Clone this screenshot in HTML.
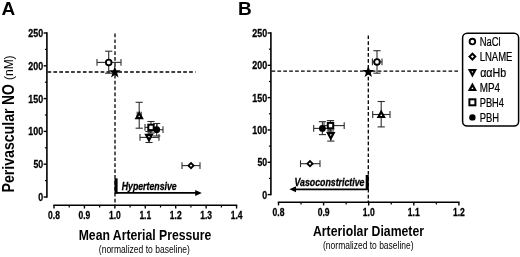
<!DOCTYPE html>
<html><head><meta charset="utf-8"><title>Figure</title>
<style>html,body{margin:0;padding:0;background:#fff}svg{display:block;will-change:transform}</style></head>
<body>
<svg width="520" height="257" viewBox="0 0 520 257" font-family='"Liberation Sans", Arial, sans-serif' fill="#000">
<rect width="520" height="257" fill="#fff"/>
<text x="1.4" y="15.3" font-size="19" font-weight="bold" font-style="normal" text-anchor="start" >A</text>
<line x1="46.9" y1="32.3" x2="46.9" y2="197.7" stroke="#000" stroke-width="1.6" />
<line x1="43.6" y1="33.0" x2="46.9" y2="33.0" stroke="#000" stroke-width="1.4" />
<text x="43.1" y="37.0" font-size="11.2" font-weight="bold" font-style="normal" text-anchor="end" textLength="14.8" lengthAdjust="spacingAndGlyphs" stroke="#000" stroke-width="0.3">250</text>
<line x1="44.9" y1="49.4" x2="46.9" y2="49.4" stroke="#000" stroke-width="1.2" />
<line x1="43.6" y1="65.8" x2="46.9" y2="65.8" stroke="#000" stroke-width="1.4" />
<text x="43.1" y="69.8" font-size="11.2" font-weight="bold" font-style="normal" text-anchor="end" textLength="14.8" lengthAdjust="spacingAndGlyphs" stroke="#000" stroke-width="0.3">200</text>
<line x1="44.9" y1="82.19999999999999" x2="46.9" y2="82.19999999999999" stroke="#000" stroke-width="1.2" />
<line x1="43.6" y1="98.6" x2="46.9" y2="98.6" stroke="#000" stroke-width="1.4" />
<text x="43.1" y="102.6" font-size="11.2" font-weight="bold" font-style="normal" text-anchor="end" textLength="14.8" lengthAdjust="spacingAndGlyphs" stroke="#000" stroke-width="0.3">150</text>
<line x1="44.9" y1="115.0" x2="46.9" y2="115.0" stroke="#000" stroke-width="1.2" />
<line x1="43.6" y1="131.39999999999998" x2="46.9" y2="131.39999999999998" stroke="#000" stroke-width="1.4" />
<text x="43.1" y="135.39999999999998" font-size="11.2" font-weight="bold" font-style="normal" text-anchor="end" textLength="14.8" lengthAdjust="spacingAndGlyphs" stroke="#000" stroke-width="0.3">100</text>
<line x1="44.9" y1="147.79999999999998" x2="46.9" y2="147.79999999999998" stroke="#000" stroke-width="1.2" />
<line x1="43.6" y1="164.2" x2="46.9" y2="164.2" stroke="#000" stroke-width="1.4" />
<text x="43.1" y="168.2" font-size="11.2" font-weight="bold" font-style="normal" text-anchor="end" textLength="9.7" lengthAdjust="spacingAndGlyphs" stroke="#000" stroke-width="0.3">50</text>
<line x1="44.9" y1="180.6" x2="46.9" y2="180.6" stroke="#000" stroke-width="1.2" />
<line x1="43.6" y1="197.0" x2="46.9" y2="197.0" stroke="#000" stroke-width="1.4" />
<text x="43.1" y="201.0" font-size="11.2" font-weight="bold" font-style="normal" text-anchor="end" textLength="4.9" lengthAdjust="spacingAndGlyphs" stroke="#000" stroke-width="0.3">0</text>
<line x1="53.3" y1="205.3" x2="237.27999999999997" y2="205.3" stroke="#000" stroke-width="1.6" />
<line x1="54.0" y1="205.3" x2="54.0" y2="208.5" stroke="#000" stroke-width="1.4" />
<text x="54.0" y="218.9" font-size="11.2" font-weight="bold" font-style="normal" text-anchor="middle" textLength="11.8" lengthAdjust="spacingAndGlyphs" stroke="#000" stroke-width="0.3">0.8</text>
<line x1="69.215" y1="205.3" x2="69.215" y2="207.5" stroke="#000" stroke-width="1.2" />
<line x1="84.43" y1="205.3" x2="84.43" y2="208.5" stroke="#000" stroke-width="1.4" />
<text x="84.43" y="218.9" font-size="11.2" font-weight="bold" font-style="normal" text-anchor="middle" textLength="11.8" lengthAdjust="spacingAndGlyphs" stroke="#000" stroke-width="0.3">0.9</text>
<line x1="99.64500000000001" y1="205.3" x2="99.64500000000001" y2="207.5" stroke="#000" stroke-width="1.2" />
<line x1="114.86" y1="205.3" x2="114.86" y2="208.5" stroke="#000" stroke-width="1.4" />
<text x="114.86" y="218.9" font-size="11.2" font-weight="bold" font-style="normal" text-anchor="middle" textLength="11.8" lengthAdjust="spacingAndGlyphs" stroke="#000" stroke-width="0.3">1.0</text>
<line x1="130.075" y1="205.3" x2="130.075" y2="207.5" stroke="#000" stroke-width="1.2" />
<line x1="145.29" y1="205.3" x2="145.29" y2="208.5" stroke="#000" stroke-width="1.4" />
<text x="145.29" y="218.9" font-size="11.2" font-weight="bold" font-style="normal" text-anchor="middle" textLength="11.8" lengthAdjust="spacingAndGlyphs" stroke="#000" stroke-width="0.3">1.1</text>
<line x1="160.505" y1="205.3" x2="160.505" y2="207.5" stroke="#000" stroke-width="1.2" />
<line x1="175.72" y1="205.3" x2="175.72" y2="208.5" stroke="#000" stroke-width="1.4" />
<text x="175.72" y="218.9" font-size="11.2" font-weight="bold" font-style="normal" text-anchor="middle" textLength="11.8" lengthAdjust="spacingAndGlyphs" stroke="#000" stroke-width="0.3">1.2</text>
<line x1="190.935" y1="205.3" x2="190.935" y2="207.5" stroke="#000" stroke-width="1.2" />
<line x1="206.15" y1="205.3" x2="206.15" y2="208.5" stroke="#000" stroke-width="1.4" />
<text x="206.15" y="218.9" font-size="11.2" font-weight="bold" font-style="normal" text-anchor="middle" textLength="11.8" lengthAdjust="spacingAndGlyphs" stroke="#000" stroke-width="0.3">1.3</text>
<line x1="221.365" y1="205.3" x2="221.365" y2="207.5" stroke="#000" stroke-width="1.2" />
<line x1="236.57999999999998" y1="205.3" x2="236.57999999999998" y2="208.5" stroke="#000" stroke-width="1.4" />
<text x="236.57999999999998" y="218.9" font-size="11.2" font-weight="bold" font-style="normal" text-anchor="middle" textLength="11.8" lengthAdjust="spacingAndGlyphs" stroke="#000" stroke-width="0.3">1.4</text>
<g transform="translate(13.4,192.5) rotate(-90)">
<text x="0" y="0.6" font-size="16" font-weight="bold" font-style="normal" text-anchor="start" textLength="84.0" lengthAdjust="spacingAndGlyphs" >Perivascular</text>
<text x="87.5" y="0.6" font-size="16" font-weight="bold" font-style="normal" text-anchor="start" textLength="20.8" lengthAdjust="spacingAndGlyphs" >NO</text>
<text x="112.5" y="0" font-size="12.5" font-weight="normal" font-style="normal" text-anchor="start" textLength="24.6" lengthAdjust="spacingAndGlyphs" >(nM)</text>
</g>
<line x1="47.5" y1="72.0" x2="195.5" y2="72.0" stroke="#000" stroke-width="1.3" stroke-dasharray="3.7 2.2"/>
<line x1="115" y1="33.5" x2="115" y2="205" stroke="#000" stroke-width="1.3" stroke-dasharray="3.7 2.2"/>
<text x="145" y="240.1" font-size="15" font-weight="bold" font-style="normal" text-anchor="middle" textLength="132.6" lengthAdjust="spacingAndGlyphs" >Mean Arterial Pressure</text>
<text x="144.3" y="253.1" font-size="10" font-weight="normal" font-style="normal" text-anchor="middle" textLength="91" lengthAdjust="spacingAndGlyphs" >(normalized to baseline)</text>
<rect x="114.5" y="178.3" width="3.1" height="15.4" fill="#000"/>
<line x1="116" y1="192.9" x2="196" y2="192.9" stroke="#000" stroke-width="1.8" />
<polygon points="201.8,192.9 195.2,189.9 195.2,195.9" fill="#000"/>
<text x="121.7" y="189.6" font-size="10" font-weight="bold" font-style="italic" text-anchor="start" textLength="55" lengthAdjust="spacingAndGlyphs" stroke="#000" stroke-width="0.3">Hypertensive</text>
<line x1="97" y1="62.4" x2="121" y2="62.4" stroke="#2e2e2e" stroke-width="1.1" />
<line x1="97" y1="59.0" x2="97" y2="65.8" stroke="#2e2e2e" stroke-width="1.1" />
<line x1="121" y1="59.0" x2="121" y2="65.8" stroke="#2e2e2e" stroke-width="1.1" />
<line x1="108.7" y1="51.2" x2="108.7" y2="73.2" stroke="#2e2e2e" stroke-width="1.1" />
<line x1="105.10000000000001" y1="51.2" x2="112.3" y2="51.2" stroke="#2e2e2e" stroke-width="1.1" />
<line x1="105.10000000000001" y1="73.2" x2="112.3" y2="73.2" stroke="#2e2e2e" stroke-width="1.1" />
<line x1="139.2" y1="102.3" x2="139.2" y2="128.2" stroke="#2e2e2e" stroke-width="1.1" />
<line x1="135.6" y1="102.3" x2="142.79999999999998" y2="102.3" stroke="#2e2e2e" stroke-width="1.1" />
<line x1="135.6" y1="128.2" x2="142.79999999999998" y2="128.2" stroke="#2e2e2e" stroke-width="1.1" />
<line x1="137.2" y1="115.2" x2="141.2" y2="115.2" stroke="#2e2e2e" stroke-width="1.1" />
<line x1="137.2" y1="111.8" x2="137.2" y2="118.60000000000001" stroke="#2e2e2e" stroke-width="1.1" />
<line x1="141.2" y1="111.8" x2="141.2" y2="118.60000000000001" stroke="#2e2e2e" stroke-width="1.1" />
<line x1="140" y1="137.4" x2="159" y2="137.4" stroke="#2e2e2e" stroke-width="1.1" />
<line x1="140" y1="134.0" x2="140" y2="140.8" stroke="#2e2e2e" stroke-width="1.1" />
<line x1="159" y1="134.0" x2="159" y2="140.8" stroke="#2e2e2e" stroke-width="1.1" />
<line x1="149" y1="131.5" x2="149" y2="142.5" stroke="#2e2e2e" stroke-width="1.1" />
<line x1="145.4" y1="131.5" x2="152.6" y2="131.5" stroke="#2e2e2e" stroke-width="1.1" />
<line x1="145.4" y1="142.5" x2="152.6" y2="142.5" stroke="#2e2e2e" stroke-width="1.1" />
<line x1="145" y1="127.4" x2="157" y2="127.4" stroke="#2e2e2e" stroke-width="1.1" />
<line x1="145" y1="124.0" x2="145" y2="130.8" stroke="#2e2e2e" stroke-width="1.1" />
<line x1="157" y1="124.0" x2="157" y2="130.8" stroke="#2e2e2e" stroke-width="1.1" />
<line x1="151" y1="121.5" x2="151" y2="133" stroke="#2e2e2e" stroke-width="1.1" />
<line x1="147.4" y1="121.5" x2="154.6" y2="121.5" stroke="#2e2e2e" stroke-width="1.1" />
<line x1="147.4" y1="133" x2="154.6" y2="133" stroke="#2e2e2e" stroke-width="1.1" />
<line x1="150.5" y1="129.7" x2="163" y2="129.7" stroke="#2e2e2e" stroke-width="1.1" />
<line x1="150.5" y1="126.29999999999998" x2="150.5" y2="133.1" stroke="#2e2e2e" stroke-width="1.1" />
<line x1="163" y1="126.29999999999998" x2="163" y2="133.1" stroke="#2e2e2e" stroke-width="1.1" />
<line x1="156.7" y1="123.5" x2="156.7" y2="136" stroke="#2e2e2e" stroke-width="1.1" />
<line x1="153.1" y1="123.5" x2="160.29999999999998" y2="123.5" stroke="#2e2e2e" stroke-width="1.1" />
<line x1="153.1" y1="136" x2="160.29999999999998" y2="136" stroke="#2e2e2e" stroke-width="1.1" />
<line x1="182" y1="165.6" x2="200" y2="165.6" stroke="#2e2e2e" stroke-width="1.1" />
<line x1="182" y1="162.2" x2="182" y2="169.0" stroke="#2e2e2e" stroke-width="1.1" />
<line x1="200" y1="162.2" x2="200" y2="169.0" stroke="#2e2e2e" stroke-width="1.1" />
<path d="M146.2 134.9L149 140.1L151.8 134.9Z" fill="#fff" stroke="#000" stroke-width="2.2"/>
<circle cx="156.7" cy="129.7" r="3.4" fill="#000"/>
<rect x="148.3" y="124.7" width="5.4" height="5.4" fill="#fff" stroke="#000" stroke-width="2.0"/>
<path d="M136.39999999999998 118.2L139.2 113.0L142.0 118.2Z" fill="#fff" stroke="#000" stroke-width="2.2"/>
<circle cx="108.7" cy="62.4" r="2.8" fill="#fff" stroke="#000" stroke-width="1.85"/>
<path d="M188.4 165.6L191 163.0L193.6 165.6L191 168.2Z" fill="#fff" stroke="#000" stroke-width="1.85" stroke-linejoin="miter"/>
<polygon points="114.80,66.00 116.27,70.28 120.79,70.35 117.18,73.07 118.50,77.40 114.80,74.80 111.10,77.40 112.42,73.07 108.81,70.35 113.33,70.28" fill="#000"/>
<text x="238.0" y="15.3" font-size="19" font-weight="bold" font-style="normal" text-anchor="start" >B</text>
<line x1="270.9" y1="32.3" x2="270.9" y2="195.29999999999998" stroke="#000" stroke-width="1.6" />
<line x1="267.59999999999997" y1="33.0" x2="270.9" y2="33.0" stroke="#000" stroke-width="1.4" />
<text x="267.09999999999997" y="37.0" font-size="11.2" font-weight="bold" font-style="normal" text-anchor="end" textLength="14.8" lengthAdjust="spacingAndGlyphs" stroke="#000" stroke-width="0.3">250</text>
<line x1="268.9" y1="49.16" x2="270.9" y2="49.16" stroke="#000" stroke-width="1.2" />
<line x1="267.59999999999997" y1="65.32" x2="270.9" y2="65.32" stroke="#000" stroke-width="1.4" />
<text x="267.09999999999997" y="69.32" font-size="11.2" font-weight="bold" font-style="normal" text-anchor="end" textLength="14.8" lengthAdjust="spacingAndGlyphs" stroke="#000" stroke-width="0.3">200</text>
<line x1="268.9" y1="81.47999999999999" x2="270.9" y2="81.47999999999999" stroke="#000" stroke-width="1.2" />
<line x1="267.59999999999997" y1="97.64" x2="270.9" y2="97.64" stroke="#000" stroke-width="1.4" />
<text x="267.09999999999997" y="101.64" font-size="11.2" font-weight="bold" font-style="normal" text-anchor="end" textLength="14.8" lengthAdjust="spacingAndGlyphs" stroke="#000" stroke-width="0.3">150</text>
<line x1="268.9" y1="113.8" x2="270.9" y2="113.8" stroke="#000" stroke-width="1.2" />
<line x1="267.59999999999997" y1="129.96" x2="270.9" y2="129.96" stroke="#000" stroke-width="1.4" />
<text x="267.09999999999997" y="133.96" font-size="11.2" font-weight="bold" font-style="normal" text-anchor="end" textLength="14.8" lengthAdjust="spacingAndGlyphs" stroke="#000" stroke-width="0.3">100</text>
<line x1="268.9" y1="146.12" x2="270.9" y2="146.12" stroke="#000" stroke-width="1.2" />
<line x1="267.59999999999997" y1="162.28" x2="270.9" y2="162.28" stroke="#000" stroke-width="1.4" />
<text x="267.09999999999997" y="166.28" font-size="11.2" font-weight="bold" font-style="normal" text-anchor="end" textLength="9.7" lengthAdjust="spacingAndGlyphs" stroke="#000" stroke-width="0.3">50</text>
<line x1="268.9" y1="178.44" x2="270.9" y2="178.44" stroke="#000" stroke-width="1.2" />
<line x1="267.59999999999997" y1="194.6" x2="270.9" y2="194.6" stroke="#000" stroke-width="1.4" />
<text x="267.09999999999997" y="198.6" font-size="11.2" font-weight="bold" font-style="normal" text-anchor="end" textLength="4.9" lengthAdjust="spacingAndGlyphs" stroke="#000" stroke-width="0.3">0</text>
<line x1="277.8" y1="202.2" x2="459.59999999999997" y2="202.2" stroke="#000" stroke-width="1.6" />
<line x1="278.5" y1="202.2" x2="278.5" y2="205.39999999999998" stroke="#000" stroke-width="1.4" />
<text x="278.5" y="215.79999999999998" font-size="11.2" font-weight="bold" font-style="normal" text-anchor="middle" textLength="11.9" lengthAdjust="spacingAndGlyphs" stroke="#000" stroke-width="0.3">0.8</text>
<line x1="301.05" y1="202.2" x2="301.05" y2="204.39999999999998" stroke="#000" stroke-width="1.2" />
<line x1="323.6" y1="202.2" x2="323.6" y2="205.39999999999998" stroke="#000" stroke-width="1.4" />
<text x="323.6" y="215.79999999999998" font-size="11.2" font-weight="bold" font-style="normal" text-anchor="middle" textLength="11.9" lengthAdjust="spacingAndGlyphs" stroke="#000" stroke-width="0.3">0.9</text>
<line x1="346.15000000000003" y1="202.2" x2="346.15000000000003" y2="204.39999999999998" stroke="#000" stroke-width="1.2" />
<line x1="368.7" y1="202.2" x2="368.7" y2="205.39999999999998" stroke="#000" stroke-width="1.4" />
<text x="368.7" y="215.79999999999998" font-size="11.2" font-weight="bold" font-style="normal" text-anchor="middle" textLength="11.9" lengthAdjust="spacingAndGlyphs" stroke="#000" stroke-width="0.3">1.0</text>
<line x1="391.25" y1="202.2" x2="391.25" y2="204.39999999999998" stroke="#000" stroke-width="1.2" />
<line x1="413.8" y1="202.2" x2="413.8" y2="205.39999999999998" stroke="#000" stroke-width="1.4" />
<text x="413.8" y="215.79999999999998" font-size="11.2" font-weight="bold" font-style="normal" text-anchor="middle" textLength="11.9" lengthAdjust="spacingAndGlyphs" stroke="#000" stroke-width="0.3">1.1</text>
<line x1="436.35" y1="202.2" x2="436.35" y2="204.39999999999998" stroke="#000" stroke-width="1.2" />
<line x1="458.9" y1="202.2" x2="458.9" y2="205.39999999999998" stroke="#000" stroke-width="1.4" />
<text x="458.9" y="215.79999999999998" font-size="11.2" font-weight="bold" font-style="normal" text-anchor="middle" textLength="11.9" lengthAdjust="spacingAndGlyphs" stroke="#000" stroke-width="0.3">1.2</text>
<line x1="271.5" y1="71.2" x2="458" y2="71.2" stroke="#000" stroke-width="1.3" stroke-dasharray="3.7 2.2"/>
<line x1="368.3" y1="35.4" x2="368.3" y2="202" stroke="#000" stroke-width="1.3" stroke-dasharray="3.7 2.2"/>
<text x="368.5" y="236.2" font-size="15" font-weight="bold" font-style="normal" text-anchor="middle" textLength="111" lengthAdjust="spacingAndGlyphs" >Arteriolar Diameter</text>
<text x="368.3" y="249.2" font-size="10" font-weight="normal" font-style="normal" text-anchor="middle" textLength="90.5" lengthAdjust="spacingAndGlyphs" >(normalized to baseline)</text>
<rect x="365.7" y="175" width="3.1" height="15" fill="#000"/>
<line x1="295" y1="189.3" x2="367" y2="189.3" stroke="#000" stroke-width="1.8" />
<polygon points="289.4,189.3 296,186.3 296,192.3" fill="#000"/>
<text x="294.5" y="186.0" font-size="10" font-weight="bold" font-style="italic" text-anchor="start" textLength="70" lengthAdjust="spacingAndGlyphs" stroke="#000" stroke-width="0.3">Vasoconstrictive</text>
<line x1="372.4" y1="61.9" x2="382" y2="61.9" stroke="#2e2e2e" stroke-width="1.1" />
<line x1="372.4" y1="58.5" x2="372.4" y2="65.3" stroke="#2e2e2e" stroke-width="1.1" />
<line x1="382" y1="58.5" x2="382" y2="65.3" stroke="#2e2e2e" stroke-width="1.1" />
<line x1="377" y1="50.7" x2="377" y2="73.2" stroke="#2e2e2e" stroke-width="1.1" />
<line x1="373.4" y1="50.7" x2="380.6" y2="50.7" stroke="#2e2e2e" stroke-width="1.1" />
<line x1="373.4" y1="73.2" x2="380.6" y2="73.2" stroke="#2e2e2e" stroke-width="1.1" />
<line x1="372.7" y1="114.5" x2="390" y2="114.5" stroke="#2e2e2e" stroke-width="1.1" />
<line x1="372.7" y1="111.1" x2="372.7" y2="117.9" stroke="#2e2e2e" stroke-width="1.1" />
<line x1="390" y1="111.1" x2="390" y2="117.9" stroke="#2e2e2e" stroke-width="1.1" />
<line x1="381.2" y1="101.5" x2="381.2" y2="126.9" stroke="#2e2e2e" stroke-width="1.1" />
<line x1="377.59999999999997" y1="101.5" x2="384.8" y2="101.5" stroke="#2e2e2e" stroke-width="1.1" />
<line x1="377.59999999999997" y1="126.9" x2="384.8" y2="126.9" stroke="#2e2e2e" stroke-width="1.1" />
<line x1="300.5" y1="163.7" x2="320" y2="163.7" stroke="#2e2e2e" stroke-width="1.1" />
<line x1="300.5" y1="160.29999999999998" x2="300.5" y2="167.1" stroke="#2e2e2e" stroke-width="1.1" />
<line x1="320" y1="160.29999999999998" x2="320" y2="167.1" stroke="#2e2e2e" stroke-width="1.1" />
<line x1="313.7" y1="128.4" x2="329" y2="128.4" stroke="#2e2e2e" stroke-width="1.1" />
<line x1="313.7" y1="125.0" x2="313.7" y2="131.8" stroke="#2e2e2e" stroke-width="1.1" />
<line x1="329" y1="125.0" x2="329" y2="131.8" stroke="#2e2e2e" stroke-width="1.1" />
<line x1="322.4" y1="121.7" x2="322.4" y2="134.6" stroke="#2e2e2e" stroke-width="1.1" />
<line x1="318.79999999999995" y1="121.7" x2="326.0" y2="121.7" stroke="#2e2e2e" stroke-width="1.1" />
<line x1="318.79999999999995" y1="134.6" x2="326.0" y2="134.6" stroke="#2e2e2e" stroke-width="1.1" />
<line x1="324" y1="125.6" x2="344.2" y2="125.6" stroke="#2e2e2e" stroke-width="1.1" />
<line x1="324" y1="122.19999999999999" x2="324" y2="129.0" stroke="#2e2e2e" stroke-width="1.1" />
<line x1="344.2" y1="122.19999999999999" x2="344.2" y2="129.0" stroke="#2e2e2e" stroke-width="1.1" />
<line x1="330.5" y1="120.6" x2="330.5" y2="131" stroke="#2e2e2e" stroke-width="1.1" />
<line x1="326.9" y1="120.6" x2="334.1" y2="120.6" stroke="#2e2e2e" stroke-width="1.1" />
<line x1="326.9" y1="131" x2="334.1" y2="131" stroke="#2e2e2e" stroke-width="1.1" />
<line x1="330.8" y1="129" x2="330.8" y2="141.1" stroke="#2e2e2e" stroke-width="1.1" />
<line x1="327.2" y1="129" x2="334.40000000000003" y2="129" stroke="#2e2e2e" stroke-width="1.1" />
<line x1="327.2" y1="141.1" x2="334.40000000000003" y2="141.1" stroke="#2e2e2e" stroke-width="1.1" />
<circle cx="322.4" cy="128.4" r="3.4" fill="#000"/>
<path d="M328.0 133.2L330.8 138.39999999999998L333.6 133.2Z" fill="#fff" stroke="#000" stroke-width="2.2"/>
<rect x="327.8" y="122.89999999999999" width="5.4" height="5.4" fill="#fff" stroke="#000" stroke-width="2.0"/>
<path d="M378.4 117.0L381.2 111.8L384.0 117.0Z" fill="#fff" stroke="#000" stroke-width="2.2"/>
<circle cx="377" cy="61.9" r="2.8" fill="#fff" stroke="#000" stroke-width="1.85"/>
<path d="M307.4 163.7L310 161.1L312.6 163.7L310 166.29999999999998Z" fill="#fff" stroke="#000" stroke-width="1.85" stroke-linejoin="miter"/>
<polygon points="368.30,65.70 369.77,69.98 374.29,70.05 370.68,72.77 372.00,77.10 368.30,74.50 364.60,77.10 365.92,72.77 362.31,70.05 366.83,69.98" fill="#000"/>
<rect x="462.6" y="33.2" width="56" height="92.8" rx="4.5" ry="4.5" fill="#fff" stroke="#000" stroke-width="1.5"/>
<circle cx="472.4" cy="41.5" r="2.8" fill="#fff" stroke="#000" stroke-width="1.85"/>
<text x="479.7" y="45.8" font-size="12" font-weight="normal" font-style="normal" text-anchor="start" textLength="21" lengthAdjust="spacingAndGlyphs" stroke="#000" stroke-width="0.22">NaCl</text>
<path d="M469.5 56.6L472.4 53.7L475.29999999999995 56.6L472.4 59.5Z" fill="#fff" stroke="#000" stroke-width="2.0" stroke-linejoin="miter"/>
<text x="479.7" y="60.9" font-size="12" font-weight="normal" font-style="normal" text-anchor="start" textLength="32.7" lengthAdjust="spacingAndGlyphs" stroke="#000" stroke-width="0.22">LNAME</text>
<path d="M469.59999999999997 70.1L472.4 75.3L475.2 70.1Z" fill="#fff" stroke="#000" stroke-width="2.2"/>
<text x="480.2" y="77.2" font-size="12" font-weight="normal" font-style="normal" text-anchor="start" textLength="26" lengthAdjust="spacingAndGlyphs" stroke="#000" stroke-width="0.22">ααHb</text>
<path d="M469.59999999999997 90.0L472.4 84.8L475.2 90.0Z" fill="#fff" stroke="#000" stroke-width="2.2"/>
<text x="479.7" y="91.5" font-size="12" font-weight="normal" font-style="normal" text-anchor="start" textLength="20.3" lengthAdjust="spacingAndGlyphs" stroke="#000" stroke-width="0.22">MP4</text>
<rect x="469.4" y="99.3" width="6.0" height="6.0" fill="#fff" stroke="#000" stroke-width="2.0"/>
<text x="479.7" y="106.6" font-size="12" font-weight="normal" font-style="normal" text-anchor="start" textLength="24.3" lengthAdjust="spacingAndGlyphs" stroke="#000" stroke-width="0.22">PBH4</text>
<circle cx="472.4" cy="117.4" r="3.2" fill="#000"/>
<text x="479.7" y="121.7" font-size="12" font-weight="normal" font-style="normal" text-anchor="start" textLength="19.3" lengthAdjust="spacingAndGlyphs" stroke="#000" stroke-width="0.22">PBH</text>
</svg>
</body></html>
